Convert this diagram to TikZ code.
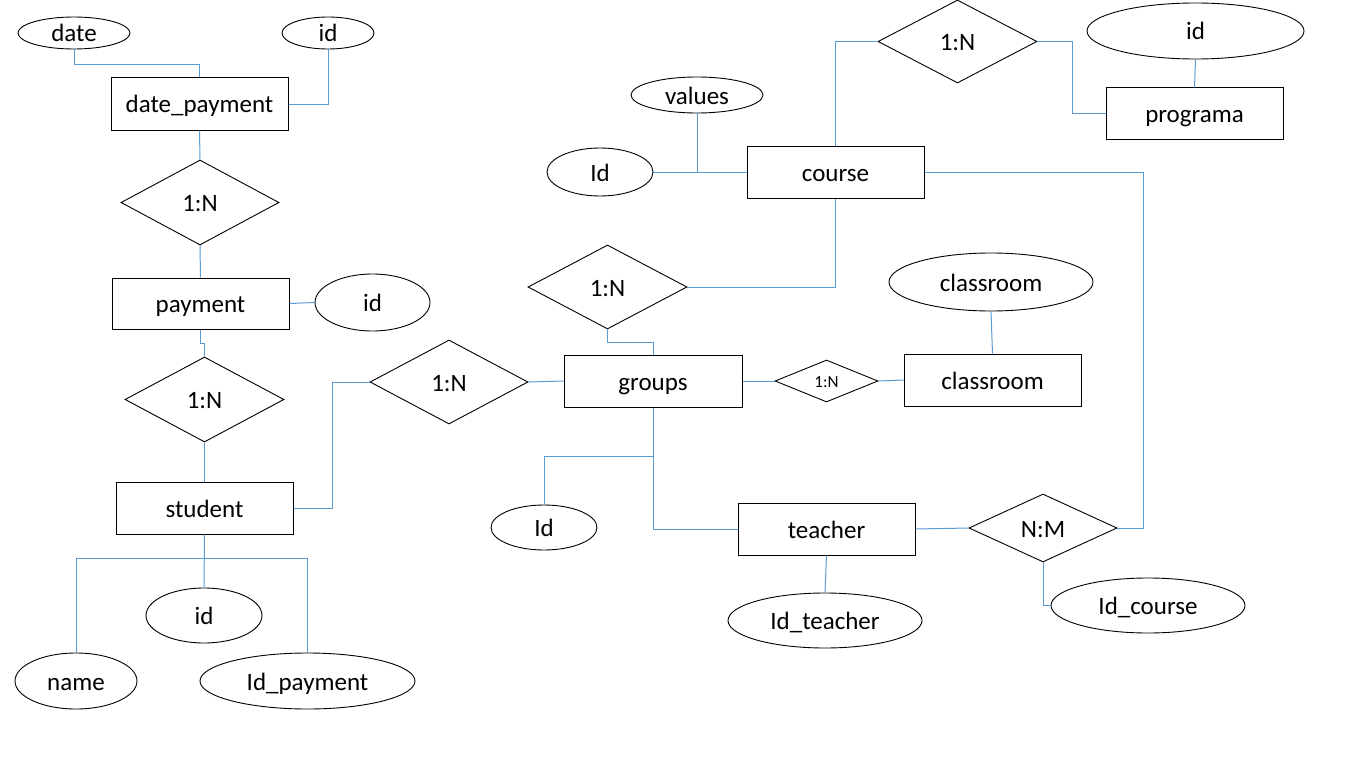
\documentclass[tikz,border=0pt]{standalone}
\usepackage{fontspec}
\setmainfont{Carlito}
\usetikzlibrary{shapes.geometric}
\definecolor{lnblue}{HTML}{5B9BD5}
\begin{document}
\begin{tikzpicture}[x=1pt,y=-1pt,
  lbl/.style={font=\fontsize{25}{30}\selectfont,text height=18pt,text depth=0pt},
  ent/.style={lbl,draw=black,line width=1pt,rectangle,minimum width=177pt,minimum height=52pt,inner sep=0pt},
  attr/.style={lbl,draw=black,line width=0.9pt,ellipse,inner sep=0pt},
  rel/.style={lbl,draw=black,line width=0.9pt,diamond,aspect=2,inner sep=0pt},
  lnk/.style={draw=lnblue,line width=1pt}]
\useasboundingbox[fill=white] (0,0) rectangle (1366,768);

% left column
\node[attr,minimum width=112pt,minimum height=32pt] (date) at (74,33) {date};
\node[attr,minimum width=92pt,minimum height=32pt] (id1) at (328,33) {id};
\node[ent] (dp) at (199.5,104) {date\_payment};
\node[rel,minimum width=158pt,minimum height=85pt] (r1) at (200,202.5) {1:N};
\node[ent,minimum height=51pt] (pay) at (200.5,303.5) {payment};
\node[attr,minimum width=115pt,minimum height=57pt] (id2) at (372.5,302.5) {id};
\node[rel,minimum width=159pt,minimum height=85pt] (r2) at (204.5,399.5) {1:N};
\node[ent] (stu) at (204.5,508) {student};
\node[attr,minimum width=116pt,minimum height=55pt] (id3) at (204,615.5) {id};
\node[attr,minimum width=122pt,minimum height=56pt] (name) at (76,681) {name};
\node[attr,minimum width=215pt,minimum height=56pt] (idp) at (307.5,681) {Id\_payment};

% middle / right
\node[rel,minimum width=158pt,minimum height=84pt] (r3) at (449,382) {1:N};
\node[ent,minimum width=178pt] (grp) at (653,381) {groups};
\node[rel,minimum width=159pt,minimum height=84pt] (r4) at (607.5,287) {1:N};
\node[ent] (crs) at (835.5,172) {course};
\node[attr,minimum width=106pt,minimum height=48pt] (id4) at (600,172) {Id};
\node[attr,minimum width=132pt,minimum height=36pt] (val) at (697,95) {values};
\node[rel,minimum width=159pt,minimum height=83pt] (r5) at (957.5,41.5) {1:N};
\node[ent,minimum height=51pt] (prog) at (1194.5,113.5) {programa};
\node[attr,minimum width=217pt,minimum height=56pt] (pid) at (1195.5,31) {id};
\node[attr,minimum width=204pt,minimum height=58pt] (cls) at (991,282) {classroom};
\node[ent] (clr) at (992.5,380) {classroom};
\node[rel,font=\fontsize{17}{20}\selectfont,text height=12pt,minimum width=103pt,minimum height=42pt] (r6) at (826.5,381) {1:N};
\node[attr,minimum width=106pt,minimum height=45pt] (id5) at (544,527.5) {Id};
\node[ent] (tch) at (826.5,529) {teacher};
\node[rel,minimum width=148pt,minimum height=68pt] (nm) at (1043,528) {N:M};
\node[attr,minimum width=194pt,minimum height=55pt] (idc) at (1148,605.5) {Id\_course};
\node[attr,minimum width=194pt,minimum height=55pt] (idt) at (825,620.5) {Id\_teacher};

% connectors
\draw[lnk] (date.south) -- ++(0,15) -| (dp.north);
\draw[lnk] (id1.south) |- (dp.east);
\draw[lnk] (dp.south) -- (r1.north);
\draw[lnk] (r1.south) -- (pay.north);
\draw[lnk] (pay.east) -- (id2.west);
\draw[lnk] (pay.south) -- ++(0,14) -| (r2.north);
\draw[lnk] (r2.south) -- (r2.south |- stu.north);
\draw[lnk] (stu.east) -- ++(39,0) |- (r3.west);
\draw[lnk] (stu.south) -- ++(0,24) coordinate (sj);
\draw[lnk] (sj) -| (name.north);
\draw[lnk] (sj) -| (idp.north);
\draw[lnk] (stu.south) -- (id3.north);

\draw[lnk] (r3.east) -- (grp.west);
\draw[lnk] (r4.east) -| (crs.south);
\draw[lnk] (r4.south) -- ++(0,13) -| (grp.north);
\draw[lnk] (id4.east) -- (crs.west);
\draw[lnk] (val.south) |- (crs.west);
\draw[lnk] (crs.north) |- (r5.west);
\draw[lnk] (r5.east) -- ++(35,0) |- (prog.west);
\draw[lnk] (pid.south) -- (prog.north);
\draw[lnk] (crs.east) -- ++(219,0) |- (nm.east);
\draw[lnk] (cls.south) -- (clr.north);
\draw[lnk] (grp.east) -- (r6.west);
\draw[lnk] (r6.east) -- (clr.west);
\draw[lnk] (grp.south) -- ++(0,49) coordinate (gj);
\draw[lnk] (gj) -| (id5.north);
\draw[lnk] (gj) |- (tch.west);
\draw[lnk] (tch.east) -- (nm.west);
\draw[lnk] (nm.south) |- (idc.west);
\draw[lnk] (tch.south) -- (idt.north);
\end{tikzpicture}
\end{document}
